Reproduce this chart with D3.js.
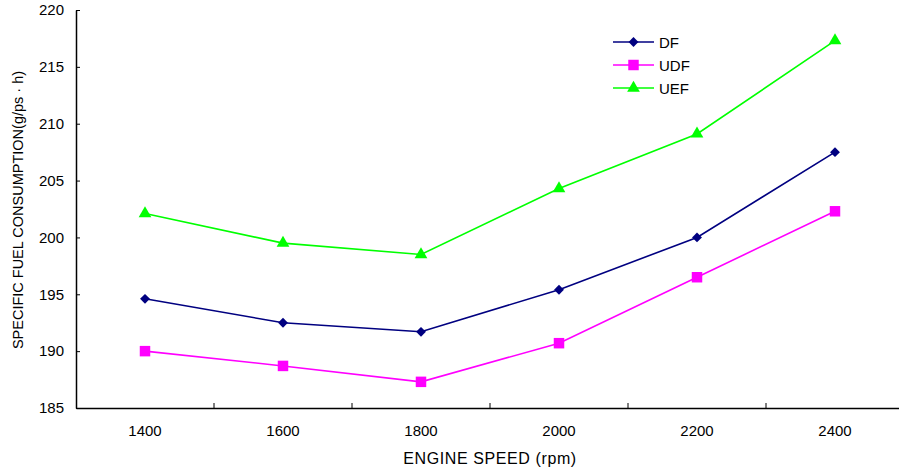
<!DOCTYPE html>
<html>
<head>
<meta charset="utf-8">
<script src="https://cdn.jsdelivr.net/npm/d3@7/dist/d3.min.js"></script>
<style>
  html, body { margin: 0; padding: 0; background: #fff; }
  svg { display: block; font-family: "Liberation Sans", Arial, sans-serif; }
</style>
</head>
<body>
<svg id="chart" width="899" height="470"></svg>
<script>
// Engine speed categories (rpm)
const speeds = [1400, 1600, 1800, 2000, 2200, 2400];
// Specific fuel consumption, g/ps·h
const dfValues  = [194.6, 192.5, 191.7, 195.4, 200.0, 207.5];
const udfValues = [190.0, 188.7, 187.3, 190.7, 196.5, 202.3];
const uefValues = [202.1, 199.5, 198.5, 204.3, 209.1, 217.3];
const yTicks = [185, 190, 195, 200, 205, 210, 215, 220];
const seriesNames = ["DF", "UDF", "UEF"];

const series = [
  { name: seriesNames[0], values: dfValues,  color: "#000080", symbol: d3.symbolDiamond2, size: 62 },
  { name: seriesNames[1], values: udfValues, color: "#ff00ff", symbol: d3.symbolSquare,   size: 110 },
  { name: seriesNames[2], values: uefValues, color: "#00ff00", symbol: d3.symbolTriangle, size: 70 }
];

const svg = d3.select("#chart");
const plotLeft = 76, plotRight = 904, plotTop = 10, plotBottom = 408;

const x = d3.scaleBand().domain(speeds).range([plotLeft, plotRight]);
const y = d3.scaleLinear().domain([185, 220]).range([plotBottom, plotTop]);

// Y axis: ticks pointing into the plot
const yAxis = svg.append("g")
  .attr("transform", `translate(${plotLeft},0)`)
  .call(d3.axisLeft(y).tickValues(yTicks).tickSize(-4).tickPadding(12).tickSizeOuter(0));
yAxis.select(".domain").attr("stroke", "#000").attr("stroke-width", 1.5);
yAxis.selectAll(".tick line").attr("stroke", "#000");
yAxis.selectAll(".tick text").attr("font-size", 15).attr("fill", "#000")
  .attr("font-family", "Liberation Sans, Arial, sans-serif");

// X axis: category labels, ticks between categories
const xAxis = svg.append("g")
  .attr("transform", `translate(0,${plotBottom})`)
  .call(d3.axisBottom(x).tickSize(0).tickPadding(17).tickSizeOuter(0));
xAxis.select(".domain").attr("stroke", "#000").attr("stroke-width", 1.5);
xAxis.selectAll(".tick text").attr("font-size", 15).attr("fill", "#000")
  .attr("font-family", "Liberation Sans, Arial, sans-serif");
svg.append("g").selectAll("line")
  .data(speeds.slice(1))
  .join("line")
  .attr("x1", d => x(d)).attr("x2", d => x(d))
  .attr("y1", plotBottom).attr("y2", plotBottom - 5)
  .attr("stroke", "#000").attr("stroke-width", 1);

// Axis titles
svg.append("text")
  .attr("x", 490).attr("y", 464)
  .attr("text-anchor", "middle")
  .attr("font-size", 16)
  .attr("letter-spacing", 0.6)
  .text("ENGINE SPEED (rpm)");
svg.append("text")
  .attr("transform", "translate(23,210) rotate(-90)")
  .attr("text-anchor", "middle")
  .attr("font-size", 14.5)
  .text("SPECIFIC FUEL CONSUMPTION(g/ps · h)");

const cx = d => x(d) + x.bandwidth() / 2;
const line = d3.line().x((d, i) => cx(speeds[i])).y(d => y(d));

series.forEach(s => {
  const g = svg.append("g");
  g.append("path")
    .attr("d", line(s.values))
    .attr("fill", "none")
    .attr("stroke", s.color)
    .attr("stroke-width", 1.6);
  g.selectAll("path.pt")
    .data(s.values)
    .join("path")
    .attr("class", "pt")
    .attr("transform", (d, i) => `translate(${cx(speeds[i])},${y(d)})`)
    .attr("d", d3.symbol().type(s.symbol).size(s.size))
    .attr("fill", s.color);
});

// Legend
const legend = svg.append("g").attr("transform", "translate(613,42)");
series.forEach((s, i) => {
  const row = legend.append("g").attr("transform", `translate(0,${i * 23})`);
  row.append("line").attr("x1", 0).attr("x2", 41).attr("y1", 0).attr("y2", 0)
    .attr("stroke", s.color).attr("stroke-width", 1.6);
  row.append("path").attr("transform", "translate(20.5,0)")
    .attr("d", d3.symbol().type(s.symbol).size(s.size)).attr("fill", s.color);
  row.append("text").attr("x", 46).attr("y", 5.5).attr("font-size", 15).text(s.name);
});
</script>
</body>
</html>
